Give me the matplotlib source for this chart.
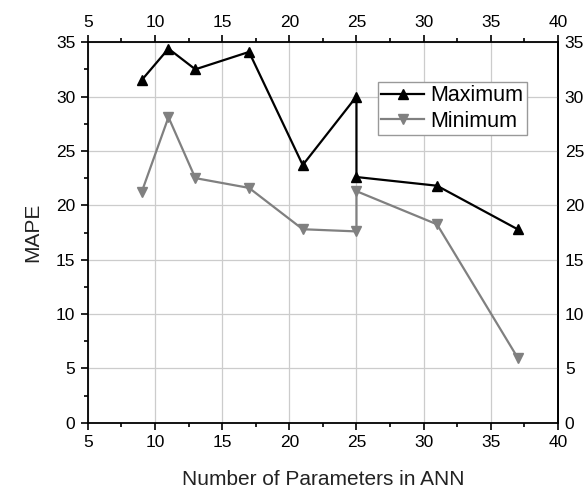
import matplotlib
matplotlib.use("Agg")
import matplotlib.pyplot as plt
from matplotlib.ticker import MultipleLocator

plt.rcParams["font.family"] = ["Liberation Sans", "DejaVu Sans"]

params = [9, 11, 13, 17, 21, 25, 25, 31, 37]
mape_max = [31.5, 34.4, 32.5, 34.1, 23.7, 30.0, 22.6, 21.8, 17.8]
mape_min = [21.2, 28.1, 22.5, 21.6, 17.8, 17.6, 21.3, 18.25, 6.0]

fig = plt.figure(figsize=(5.86, 4.9), dpi=100)
ax = fig.add_axes([0.150, 0.137, 0.802, 0.777])

ax.plot(params, mape_max, color="black", linewidth=1.6, marker="^", markersize=7.5, label="Maximum")
ax.plot(params, mape_min, color="#808080", linewidth=1.6, marker="v", markersize=7.5, label="Minimum")

ax.set_xlim(5, 40)
ax.set_ylim(0, 35)
ax.xaxis.set_major_locator(MultipleLocator(5))
ax.xaxis.set_minor_locator(MultipleLocator(2.5))
ax.yaxis.set_major_locator(MultipleLocator(5))
ax.yaxis.set_minor_locator(MultipleLocator(2.5))
ax.grid(True, which="major", color="#cccccc", linewidth=0.9)
ax.set_axisbelow(True)
ax.tick_params(which="both", direction="out", top=True, right=False,
               labeltop=True, labelsize=12.5, width=1.2, pad=4)
ax.tick_params(which="major", length=5)
ax.tick_params(which="minor", length=3)
for s in ax.spines.values():
    s.set_linewidth(1.3)

# right-hand labels without tick marks
sec = ax.secondary_yaxis("right")
sec.yaxis.set_major_locator(MultipleLocator(5))
sec.tick_params(length=0, pad=5, labelsize=12.5)
sec.spines["right"].set_linewidth(1.3)

ax.set_xlabel("Number of Parameters in ANN", fontsize=15, labelpad=14, color="#222222")
ax.set_ylabel("MAPE", fontsize=15, labelpad=10, color="#222222")

leg = ax.legend(loc="upper left", bbox_to_anchor=(0.617, 0.895), fontsize=15.5,
                fancybox=False, framealpha=1, edgecolor="#999999",
                handlelength=2.0, handletextpad=0.3, borderpad=0.15, labelspacing=0.2,
                borderaxespad=0)
leg.get_frame().set_linewidth(1.0)

fig.savefig("out.png", dpi=100)
